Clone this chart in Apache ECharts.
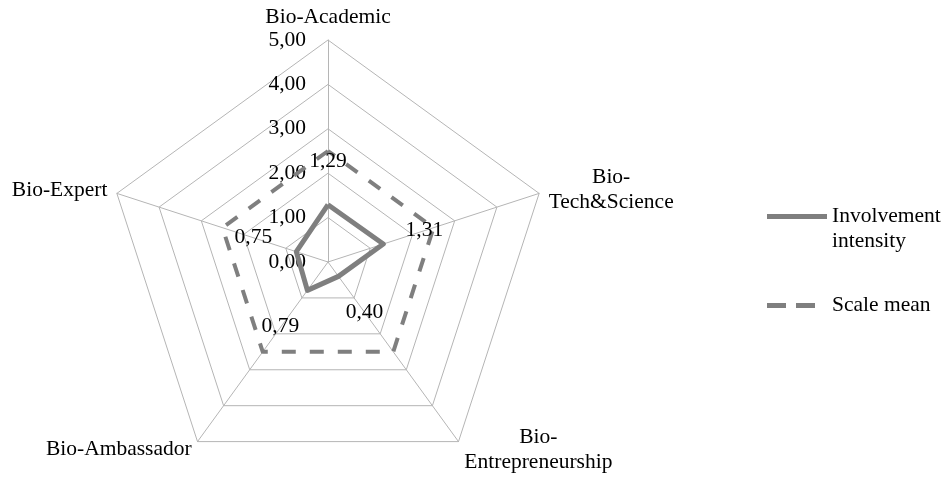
<!DOCTYPE html>
<html>
<head>
<meta charset="utf-8">
<script src="https://cdn.jsdelivr.net/npm/echarts@6/dist/echarts.min.js"></script>
<style>html,body{margin:0;padding:0;background:#fff}#main{width:946px;height:478px}</style>
</head>
<body>
<div id="main"></div>
<script>
// echarts lays indicators out counter-clockwise from the top
var categories = ['Bio-Academic', 'Bio-Expert', 'Bio-Ambassador', 'Bio-\nEntrepreneurship', 'Bio-\nTech&Science'];
var involvement = [1.29, 0.75, 0.79, 0.40, 1.31];
var scaleMean = [2.5, 2.5, 2.5, 2.5, 2.5];
var ticks = [0, 1, 2, 3, 4, 5];
var seriesNames = ['Involvement intensity', 'Scale mean'];

var font = 'Liberation Serif';
var fs = 21.5;
var grey = '#7f7f7f';
// where excel put the value labels, relative to each vertex
var labelShift = [[0, -43], [-43, -14], [-27, 36], [26, 36], [41, -14]];

function fmt(v) { return v.toFixed(2).replace('.', ','); }

var myChart = echarts.init(document.getElementById('main'));

var indicators = categories.map(function (c, i) {
  var ind = { name: c, min: ticks[0], max: ticks[ticks.length - 1] };
  if (i === 0) {
    ind.axisLabel = {
      show: true, margin: 22, fontSize: fs, fontFamily: font, color: '#000',
      formatter: function (v) { return fmt(v); }
    };
  }
  return ind;
});

option = {
  animation: false,
  radar: {
    center: [328, 262],
    radius: 222,
    shape: 'polygon',
    splitNumber: ticks.length - 1,
    indicator: indicators,
    axisName: {
      color: '#000', fontSize: fs, fontFamily: font,
      formatter: function (name) {
        return name.split('\n').map(function (s) { return '{c|' + s + '}'; }).join('\n');
      },
      rich: { c: { align: 'center', fontSize: fs, fontFamily: font, color: '#000', lineHeight: 25 } }
    },
    nameGap: 10,
    axisLine: { lineStyle: { color: '#b5b5b5', width: 1 } },
    splitLine: { lineStyle: { color: '#b5b5b5', width: 1 } },
    splitArea: { show: false },
    axisTick: { show: false },
    axisLabel: { show: false }
  },
  legend: [
    {
      data: [{ name: seriesNames[0], icon: 'path://M0,0H60V5H0Z' }],
      orient: 'vertical', left: 767, top: 179, padding: 0,
      itemWidth: 60, itemHeight: 5,
      itemStyle: { borderWidth: 0 },
      // blank first line keeps the first text line level with the icon
      formatter: function (n) { return '\n' + n.replace(' ', '\n'); },
      textStyle: { fontSize: fs, fontFamily: font, color: '#000', lineHeight: 25 }
    },
    {
      data: [{ name: seriesNames[1], icon: 'path://M0,0H19V5H0Z M29,0H48V5H29Z' }],
      orient: 'vertical', left: 767, top: 293, padding: 0,
      itemWidth: 48, itemHeight: 5,
      itemStyle: { borderWidth: 0 },
      textStyle: { fontSize: fs, fontFamily: font, color: '#000', lineHeight: 25, padding: [0, 0, 0, 12] }
    }
  ],
  series: [
    {
      name: seriesNames[1],
      type: 'radar',
      symbol: 'none',
      itemStyle: { color: grey },
      lineStyle: { color: grey, width: 4, type: [14, 14] },
      data: [{ value: scaleMean, name: seriesNames[1] }]
    },
    {
      name: seriesNames[0],
      type: 'radar',
      symbol: 'none',
      itemStyle: { color: grey },
      lineStyle: { color: grey, width: 5 },
      data: [{ value: involvement, name: seriesNames[0] }]
    },
    {
      name: 'labels',
      type: 'radar',
      silent: true,
      symbol: 'circle',
      symbolSize: 1,
      itemStyle: { color: 'rgba(0,0,0,0)' },
      lineStyle: { width: 0, opacity: 0 },
      data: categories.map(function (c, i) {
        return {
          value: involvement,
          label: {
            show: true, position: 'inside', offset: labelShift[i],
            fontSize: fs, fontFamily: font, color: '#000',
            formatter: function (p) { return p.dimensionIndex === i ? fmt(p.value) : ''; }
          }
        };
      })
    }
  ]
};

myChart.setOption(option);
</script>
</body>
</html>
